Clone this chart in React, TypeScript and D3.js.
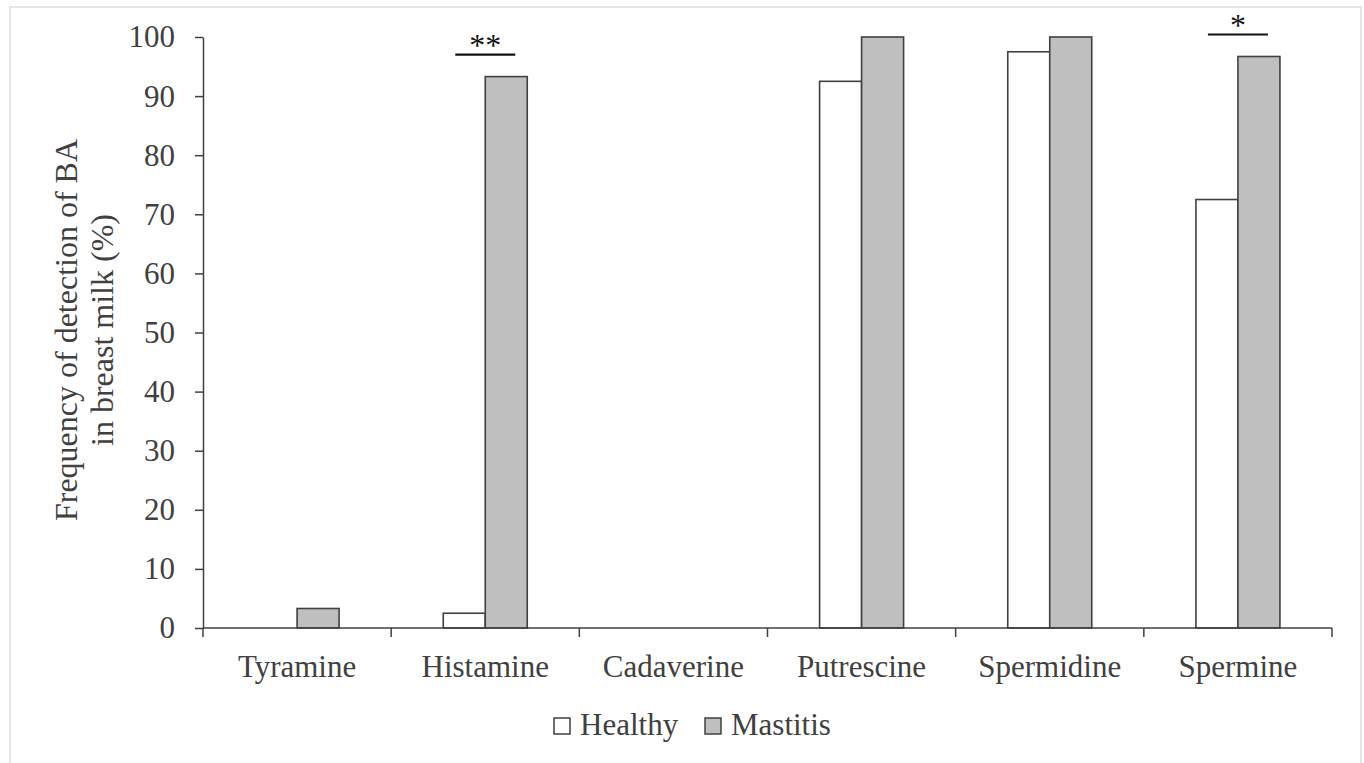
import React, { useRef, useEffect } from 'react';
import * as d3 from 'd3';

// biogenic amines on the x axis
const amines = ['Tyramine', 'Histamine', 'Cadaverine', 'Putrescine', 'Spermidine', 'Spermine'];
const groups = ['Healthy', 'Mastitis'];
const healthyValues = [0, 2.5, 0, 92.5, 97.5, 72.5];
const mastitisValues = [3.3, 93.3, 0, 100, 100, 96.7];
const yTicks = [0, 10, 20, 30, 40, 50, 60, 70, 80, 90, 100];

// significance marks
const sigAmines = ['Histamine', 'Spermine'];
const sigLabels = ['**', '*'];

const groupFill: Record<string, string> = { Healthy: '#ffffff', Mastitis: '#bfbfbf' };
const ink = '#404040';
const font = "'Liberation Serif', 'DejaVu Serif', serif";

export default function App() {
  const svgRef = useRef<SVGSVGElement>(null);

  useEffect(() => {
    const width = 1364;
    const height = 763;
    const marginTop = 37;
    const marginLeft = 203;
    const plotRight = 1332;
    const plotBottom = 628;
    const barWidth = 42;

    const x = d3.scaleBand<string>()
      .domain(amines)
      .range([marginLeft, plotRight])
      .padding(0);

    const xSub = d3.scaleBand<string>()
      .domain(groups)
      .range([x.bandwidth() / 2 - barWidth, x.bandwidth() / 2 + barWidth])
      .padding(0);

    const y = d3.scaleLinear()
      .domain([0, 100])
      .range([plotBottom, marginTop]);

    const svg = d3.select(svgRef.current)
      .attr('width', width)
      .attr('height', height)
      .attr('viewBox', [0, 0, width, height].join(' '))
      .style('font-family', font);

    svg.selectAll('*').remove();

    // outer frame
    svg.append('rect')
      .attr('x', 10).attr('y', 7)
      .attr('width', 1351).attr('height', 770)
      .attr('fill', 'white')
      .attr('stroke', '#e6e6e6')
      .attr('stroke-width', 2);

    const rows = amines.map((a, i) => ({ amine: a, Healthy: healthyValues[i], Mastitis: mastitisValues[i] }));

    // bars
    svg.append('g')
      .selectAll('g')
      .data(rows)
      .join('g')
        .attr('transform', d => `translate(${x(d.amine)},0)`)
      .selectAll('rect')
      .data(d => groups.map(g => ({ key: g, value: (d as any)[g] as number })).filter(v => v.value > 0))
      .join('rect')
        .attr('x', d => xSub(d.key)!)
        .attr('y', d => y(d.value))
        .attr('width', xSub.bandwidth())
        .attr('height', d => y(0) - y(d.value))
        .attr('fill', d => groupFill[d.key])
        .attr('stroke', ink)
        .attr('stroke-width', 1.6);

    // y axis
    svg.append('g')
      .attr('transform', `translate(${marginLeft},0)`)
      .call(d3.axisLeft(y).tickValues(yTicks).tickSize(8).tickSizeOuter(0).tickPadding(20))
      .attr('font-family', null)
      .call(g => g.select('.domain').attr('stroke', ink).attr('stroke-width', 1.5))
      .call(g => g.selectAll('.tick line').attr('stroke', ink).attr('stroke-width', 1.5))
      .call(g => g.selectAll('.tick text')
        .attr('fill', ink)
        .style('font-family', font)
        .style('font-size', '31px'));

    // x axis: baseline, boundary ticks, centred labels
    const xAxis = svg.append('g');
    xAxis.append('line')
      .attr('x1', marginLeft).attr('x2', plotRight)
      .attr('y1', y(0)).attr('y2', y(0))
      .attr('stroke', ink).attr('stroke-width', 1.5);
    const bounds = amines.map(a => x(a)!).concat([plotRight]);
    xAxis.selectAll('line.tick')
      .data(bounds)
      .join('line')
        .attr('class', 'tick')
        .attr('x1', d => d).attr('x2', d => d)
        .attr('y1', y(0)).attr('y2', y(0) + 9)
        .attr('stroke', ink).attr('stroke-width', 1.5);
    xAxis.selectAll('text')
      .data(amines)
      .join('text')
        .attr('x', d => x(d)! + x.bandwidth() / 2)
        .attr('y', y(0) + 49)
        .attr('text-anchor', 'middle')
        .attr('fill', ink)
        .style('font-size', '31px')
        .text(d => d);

    // significance brackets
    const sig = svg.append('g');
    sigAmines.forEach((a, i) => {
      const cx = x(a)! + x.bandwidth() / 2;
      const k = amines.indexOf(a);
      const top = Math.max(healthyValues[k], mastitisValues[k]);
      const ly = y(top) - 22;
      sig.append('line')
        .attr('x1', cx - 30).attr('x2', cx + 30)
        .attr('y1', ly).attr('y2', ly)
        .attr('stroke', '#111').attr('stroke-width', 2.2);
      sig.append('text')
        .attr('x', cx)
        .attr('y', ly + 1)
        .attr('text-anchor', 'middle')
        .attr('fill', '#111')
        .style('font-size', '32px')
        .text(sigLabels[i]);
    });

    // y axis title
    svg.append('text')
      .attr('transform', 'translate(77,330) rotate(-90)')
      .attr('text-anchor', 'middle')
      .attr('fill', ink)
      .style('font-size', '32px')
      .call(t => t.append('tspan').attr('x', 0).attr('dy', 0).text('Frequency of detection of BA'))
      .call(t => t.append('tspan').attr('x', 0).attr('dy', 36).text('in breast milk (%)'));

    // legend
    const legendX = [554, 705];
    const legend = svg.append('g');
    groups.forEach((g, i) => {
      legend.append('rect')
        .attr('x', legendX[i]).attr('y', 718)
        .attr('width', 16).attr('height', 16)
        .attr('fill', groupFill[g])
        .attr('stroke', ink)
        .attr('stroke-width', 1.5);
      legend.append('text')
        .attr('x', legendX[i] + 26)
        .attr('y', 735)
        .attr('fill', ink)
        .style('font-size', '31px')
        .text(g);
    });
  }, []);

  return (
    <div style={{ position: 'absolute', left: 0, top: 0 }}>
      <svg ref={svgRef}></svg>
    </div>
  );
}
